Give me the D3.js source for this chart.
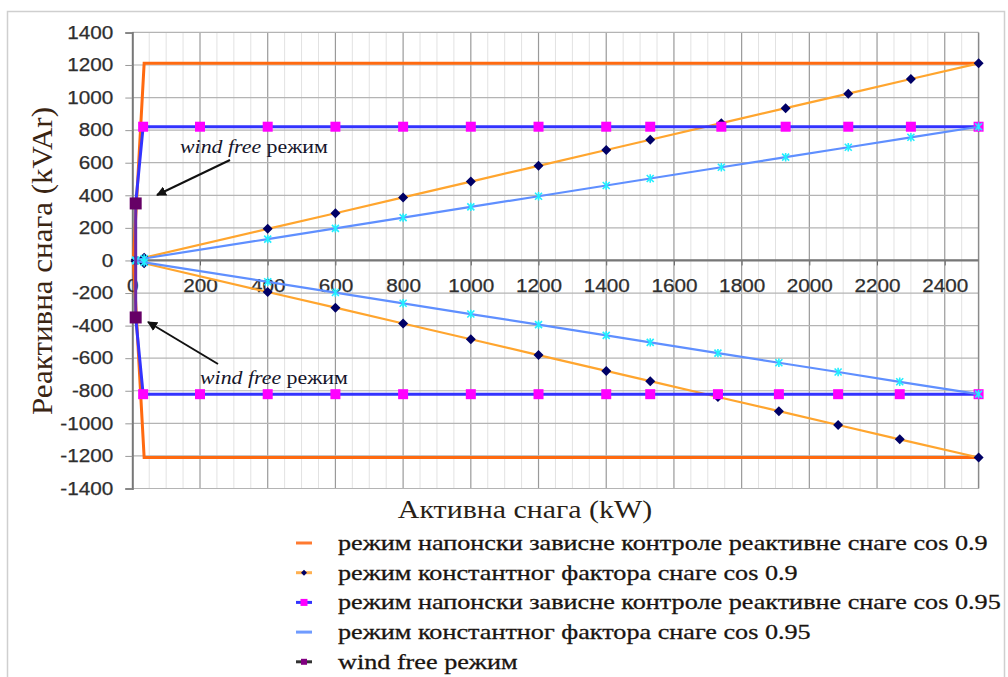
<!DOCTYPE html>
<html><head><meta charset="utf-8">
<script src="https://cdn.jsdelivr.net/npm/d3@7"></script>
<style>
html,body{margin:0;padding:0;background:#fff;}
svg{display:block;}
</style></head>
<body>
<svg id="chart" width="1008" height="677"></svg>
<script>
// ---------- DATA ----------
const xTickLabels = [0,200,400,600,800,1000,1200,1400,1600,1800,2000,2200,2400];
const yTickLabels = [-1400,-1200,-1000,-800,-600,-400,-200,0,200,400,600,800,1000,1200,1400];

// active power samples (upper half / lower half)
const pTop = [10,35,400,600,800,1000,1200,1400,1530,1740,1930,2115,2300,2500];
const pBot = [10,35,400,600,800,1000,1200,1400,1530,1730,1910,2085,2267,2500];

// constant power factor cos 0.9
const q09Top = [5,17,194,290,387,484,581,678,741,843,935,1024,1114,1210];
const q09Bot = [-5,-17,-194,-290,-387,-484,-581,-678,-741,-838,-925,-1010,-1098,-1210];
// constant power factor cos 0.95
const q095Top = [3,12,131,197,263,329,394,460,503,572,634,695,756,821];
const q095Bot = [-3,-12,-131,-197,-263,-329,-394,-460,-503,-569,-628,-685,-745,-821];

// voltage dependent control cos 0.9 (no markers)
const pVc09 = [2500,35,3,35,2500];
const qVc09 = [1210,1210,0,-1210,-1210];

// voltage dependent control cos 0.95 (magenta markers)
const pVc095Top = [10,32,200,400,600,800,1000,1200,1400,1530,1740,1930,2115,2300,2500];
const qVc095Top = [350,821,821,821,821,821,821,821,821,821,821,821,821,821,821];
const pVc095Bot = [10,32,200,400,600,800,1000,1200,1400,1530,1730,1910,2085,2267,2500];
const qVc095Bot = [-350,-821,-821,-821,-821,-821,-821,-821,-821,-821,-821,-821,-821,-821,-821];

// wind free mode
const pWind = [10,10];
const qWind = [350,-350];

const legendLabels = [
  "режим напонски зависне контроле реактивне снаге cos 0.9",
  "режим константног фактора снаге cos 0.9",
  "режим напонски зависне контроле реактивне снаге cos 0.95",
  "режим константног фактора снаге cos 0.95",
  "wind free режим"
];
const xTitle = "Активна снага (kW)";
const yTitle = "Реактивна снага (kVAr)";

// ---------- DRAW ----------
const svg = d3.select("#chart");
const STRETCH = 1.15;
const L = 132.3, R = 978.6, T = 32.4, B = 488.5;
const x = d3.scaleLinear().domain([0,2500]).range([L,R]);
const y = d3.scaleLinear().domain([-1400,1400]).range([B,T]);

function stretch(sel, f){
  sel.each(function(){
    const w = this.getComputedTextLength();
    d3.select(this).attr("textLength", w*f).attr("lengthAdjust","spacingAndGlyphs");
  });
}

// outer frame
svg.append("rect").attr("x",7.5).attr("y",11.5).attr("width",997).attr("height",700)
  .attr("fill","#fff").attr("stroke","#cfcfcf").attr("stroke-width",1.5);

const g = svg.append("g");
// minor vertical grid every 50
g.append("g").selectAll("line").data(d3.range(50,2500,50).filter(v=>v%200!==0))
  .join("line").attr("x1",d=>x(d)).attr("x2",d=>x(d)).attr("y1",T).attr("y2",B)
  .attr("stroke","#e2e2e2").attr("stroke-width",1);
// major vertical grid
g.append("g").selectAll("line").data(xTickLabels.filter(v=>v>0))
  .join("line").attr("x1",d=>x(d)).attr("x2",d=>x(d)).attr("y1",T).attr("y2",B)
  .attr("stroke","#9a9a9a").attr("stroke-width",1.2);
// horizontal grid
g.append("g").selectAll("line").data(yTickLabels)
  .join("line").attr("x1",L).attr("x2",R).attr("y1",d=>y(d)).attr("y2",d=>y(d))
  .attr("stroke","#b4b4b4").attr("stroke-width",1.2);
g.append("line").attr("x1",R).attr("x2",R).attr("y1",T).attr("y2",B).attr("stroke","#8a8a8a").attr("stroke-width",1.5);

const fmt = d => String(d);
const tickFont = "'Liberation Sans', Arial, sans-serif";
// y axis
const yAxis = d3.axisLeft(y).tickValues(yTickLabels).tickSize(7).tickPadding(12).tickFormat(fmt);
const ya = svg.append("g").attr("transform",`translate(${L},0)`).call(yAxis);
ya.select(".domain").attr("stroke","#777").attr("stroke-width",2);
ya.selectAll(".tick line").attr("stroke","#999");
ya.selectAll("text").attr("font-family",tickFont).attr("font-size",18).attr("fill","#2e2e2e")
  .attr("stroke","#2e2e2e").attr("stroke-width",0.25);
// x axis at y=0
const xAxis = d3.axisBottom(x).tickValues(xTickLabels).tickSize(5).tickPadding(14).tickFormat(fmt);
const xa = svg.append("g").attr("transform",`translate(0,${y(0)})`).call(xAxis);
xa.select(".domain").remove();
xa.append("line").attr("x1",L).attr("x2",R).attr("y1",0).attr("y2",0).attr("stroke","#777").attr("stroke-width",2.2);
xa.selectAll(".tick line").attr("stroke","#666");
xa.selectAll("text").attr("font-family",tickFont).attr("font-size",18).attr("fill","#2e2e2e")
  .attr("stroke","#2e2e2e").attr("stroke-width",0.25);
stretch(ya.selectAll("text"), STRETCH);
stretch(xa.selectAll("text"), STRETCH);

const line = d3.line().x(d=>x(d[0])).y(d=>y(d[1]));
const zip = (a,b)=>a.map((v,i)=>[v,b[i]]);

const diamond = s => `M0,${-s}L${s},0L0,${s}L${-s},0Z`;
const square = s => `M${-s/2},${-s/2}h${s}v${s}h${-s}Z`;
const star = s => `M${-s},${-s}L${s},${s}M${-s},${s}L${s},${-s}M0,${-s*1.2}L0,${s*1.2}`;

// series 1: voltage control cos 0.9
svg.append("path").attr("d",line(zip(pVc09,qVc09))).attr("fill","none")
  .attr("stroke","#ff6a10").attr("stroke-width",3);

// series 2: constant pf cos 0.9
[[pTop,q09Top],[pBot,q09Bot]].forEach(([p,q])=>{
  const pts = zip(p,q);
  svg.append("path").attr("d",line(pts)).attr("fill","none").attr("stroke","#ffa52e").attr("stroke-width",2.2);
  svg.append("g").selectAll("path").data(pts).join("path")
    .attr("d",diamond(5)).attr("transform",d=>`translate(${x(d[0])},${y(d[1])})`).attr("fill","#000066");
});

// series 3: voltage control cos 0.95
[[pVc095Top,qVc095Top],[pVc095Bot,qVc095Bot]].forEach(([p,q])=>{
  const pts = zip(p,q);
  svg.append("path").attr("d",line(pts)).attr("fill","none").attr("stroke","#3333ff").attr("stroke-width",3);
  svg.append("g").selectAll("path").data(pts.slice(1)).join("path")
    .attr("d",square(10)).attr("transform",d=>`translate(${x(d[0])},${y(d[1])})`).attr("fill","#ff00ff");
});

// series 4: constant pf cos 0.95
[[pTop,q095Top],[pBot,q095Bot]].forEach(([p,q])=>{
  const pts = zip(p,q);
  svg.append("path").attr("d",line(pts)).attr("fill","none").attr("stroke","#5f8fff").attr("stroke-width",2.2);
  svg.append("g").selectAll("path").data(pts).join("path")
    .attr("d",star(3.5)).attr("transform",d=>`translate(${x(d[0])},${y(d[1])})`)
    .attr("fill","none").attr("stroke","#22eeff").attr("stroke-width",1.6);
});

// series 5: wind free
const wpts = zip(pWind,qWind);
svg.append("path").attr("d",line(wpts)).attr("fill","none").attr("stroke","#6a2aa8").attr("stroke-width",3);
svg.append("g").selectAll("path").data(wpts).join("path")
  .attr("d",square(12)).attr("transform",d=>`translate(${x(d[0])},${y(d[1])})`).attr("fill","#660066");

// annotations
const defs = svg.append("defs");
defs.append("marker").attr("id","arr").attr("viewBox","0 0 10 10").attr("refX",9).attr("refY",5)
  .attr("markerWidth",5).attr("markerHeight",5).attr("orient","auto")
  .append("path").attr("d","M0,0L10,5L0,10Z").attr("fill","#111");
function annot(tx,ty,x1,y1,x2,y2){
  const t = svg.append("text").attr("x",tx).attr("y",ty)
    .attr("font-family","'Liberation Serif','Times New Roman',serif").attr("font-size",19).attr("fill","#15152a");
  t.append("tspan").attr("font-style","italic").text("wind free");
  t.append("tspan").text(" режим");
  stretch(t, STRETCH);
  svg.append("line").attr("x1",x1).attr("y1",y1).attr("x2",x2).attr("y2",y2)
    .attr("stroke","#111").attr("stroke-width",2).attr("marker-end","url(#arr)");
}
annot(180,153,230,160,157,195);
annot(200,384,218,364,148,322);

// axis titles
const xt = svg.append("text").attr("x",525).attr("y",518).attr("text-anchor","middle")
  .attr("font-family","'Liberation Serif','Times New Roman',serif").attr("font-size",26).attr("fill","#2a1f17").text(xTitle);
stretch(xt, STRETCH);
svg.append("text").attr("transform","translate(52,261) rotate(-90)").attr("text-anchor","middle")
  .attr("font-family","'Liberation Serif','Times New Roman',serif").attr("font-size",29).attr("fill","#3a2412")
  .attr("textLength",308).attr("lengthAdjust","spacingAndGlyphs").text(yTitle);

// legend
const lg = svg.append("g").attr("transform","translate(296,543)");
const rowH = 29.7;
const legStyles = [
  {c:"#ff7a30", m:null},
  {c:"#ffb050", m:"d"},
  {c:"#3333ff", m:"s"},
  {c:"#6f9bff", m:null},
  {c:"#333333", m:"w"}
];
legendLabels.forEach((lab,i)=>{
  const r = lg.append("g").attr("transform",`translate(0,${i*rowH})`);
  r.append("line").attr("x1",0).attr("x2",16).attr("y1",0).attr("y2",0).attr("stroke",legStyles[i].c).attr("stroke-width",3);
  const m = legStyles[i].m;
  if(m==="d") r.append("path").attr("d",diamond(3)).attr("transform","translate(8,0)").attr("fill","#000066");
  if(m==="s") r.append("path").attr("d",square(7)).attr("transform","translate(8,0)").attr("fill","#ff00ff");
  if(m==="w") r.append("path").attr("d",square(6)).attr("transform","translate(8,0)").attr("fill","#800080");
  const t = r.append("text").attr("x",42).attr("y",7)
    .attr("font-family","'Liberation Serif','Times New Roman',serif").attr("font-size",22).attr("fill","#1a1410")
    .attr("stroke","#1a1410").attr("stroke-width",0.3).text(lab);
  stretch(t, 1.19);
});
</script>
</body></html>
